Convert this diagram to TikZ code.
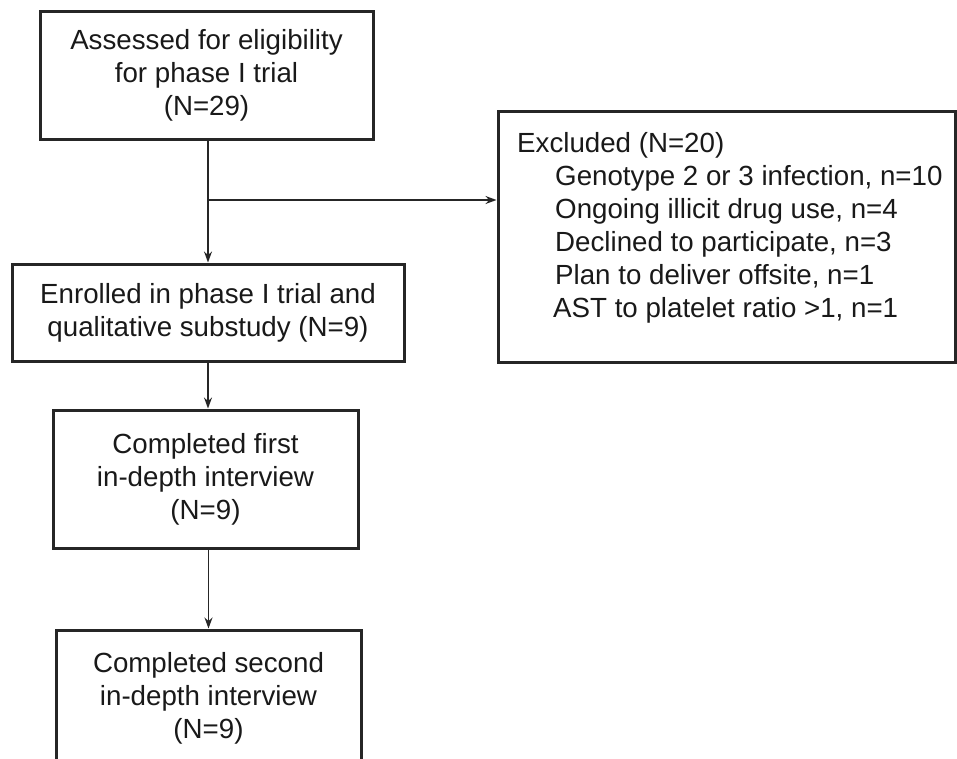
\documentclass[tikz,border=0pt]{standalone}
\usepackage{fontspec}
\setmainfont{Liberation Sans}
\usetikzlibrary{arrows.meta,calc}
\begin{document}
\begin{tikzpicture}[x=1pt,y=-1pt,
  box/.style={draw=black!85, line width=3pt, rectangle, inner sep=0pt},
  txt/.style={font=\fontsize{27.7}{33}\selectfont, align=center, inner sep=0pt, text=black!90},
  arr/.style={draw=black!85, line width=1.3pt, -{Stealth[length=11pt,width=8pt]}}]
\useasboundingbox (0,0) rectangle (957,758);
\begin{scope}
\clip (0,0) rectangle (957,758);
% boxes
\node[box, minimum width=333pt, minimum height=128pt] (b1) at (206.5,75) {};
\node[txt] (t1) at (b1) {Assessed for eligibility\\for phase I trial\\(N=29)};
\node[box, minimum width=392pt, minimum height=97pt] (enr) at (208,312.5) {};
\node[txt] (tenr) at (enr) {Enrolled in phase I trial and\\qualitative substudy (N=9)};
\node[box, minimum width=457pt, minimum height=251pt] (excl) at (726.5,236.5) {};
\node[txt, align=left, anchor=north west] (texcl) at (517,132) {Excluded (N=20)\\
\hspace*{38pt}Genotype 2 or 3 infection, n=10\\
\hspace*{38pt}Ongoing illicit drug use, n=4\\
\hspace*{38pt}Declined to participate, n=3\\
\hspace*{38pt}Plan to deliver offsite, n=1\\
\hspace*{36pt}AST to platelet ratio >1, n=1};
\node[box, minimum width=305pt, minimum height=138pt] (c1) at (205.5,479) {};
\node[txt] (tc1) at (c1) {Completed first\\in-depth interview\\(N=9)};
\node[box, minimum width=305pt, minimum height=180pt] (c2) at (208.5,720) {};
\node[txt, anchor=north] (tc2) at (208.5,652) {Completed second\\in-depth interview\\(N=9)};
% connectors
\coordinate (br) at (208,200);
\draw[arr] (b1.south -| enr.north) -- (enr.north);
\draw[arr] (br) -- (br -| excl.west);
\draw[arr] (enr.south) -- (enr.south |- c1.north);
\draw[arr] (c1.south -| c2.north) -- (c2.north);
\end{scope}
\end{tikzpicture}
\end{document}
